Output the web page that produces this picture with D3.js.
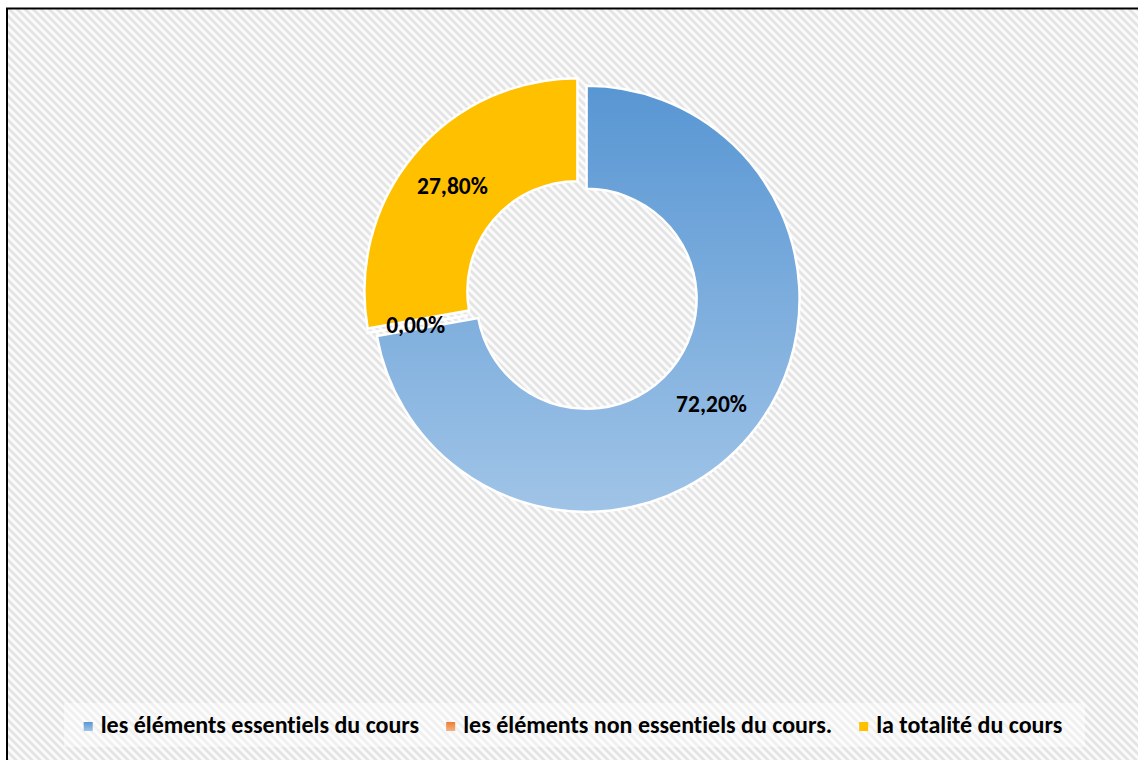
<!DOCTYPE html>
<html>
<head>
<meta charset="utf-8">
<script src="https://cdn.jsdelivr.net/npm/d3@7"></script>
<style>
  html, body { margin: 0; padding: 0; background: #ffffff; }
  svg { display: block; }
  text {
    font-family: Carlito, Calibri, Lato, sans-serif;
    font-weight: 700;
    fill: #000000;
    font-variant-ligatures: none;
  }
</style>
</head>
<body>
<div id="chart"></div>
<script>
// =====================================
// DATA
// =====================================

const categories = [
  "les éléments essentiels du cours",
  "les éléments non essentiels du cours.",
  "la totalité du cours"
];

const values = [72.2, 0, 27.8];

// =====================================
// DIMENSIONS
// =====================================

const width = 1138;
const height = 760;

const cx = 582;
const cy = 295;
const outerRadius = 213;
const innerRadius = 110;
const explode = 6;

// =====================================
// SVG
// =====================================

const svg = d3.select("#chart")
  .append("svg")
  .attr("width", width)
  .attr("height", height);

const defs = svg.append("defs");

// hatched background
const pattern = defs.append("pattern")
  .attr("id", "hatch")
  .attr("patternUnits", "userSpaceOnUse")
  .attr("width", 8)
  .attr("height", 8);

pattern.append("rect")
  .attr("width", 8)
  .attr("height", 8)
  .attr("fill", "#fbfbfb");

pattern.append("path")
  .attr("d", "M-2,-2 L10,10 M-2,6 L2,10 M6,-2 L10,2")
  .attr("stroke", "#e4e4e4")
  .attr("stroke-width", 2.8);

// slice gradients
const gradients = [
  ["#5896d3", "#a0c4e7"],
  ["#ed7d31", "#f4b183"],
  ["#ffc000", "#ffc000"]
];

gradients.forEach((g, i) => {
  const lg = defs.append("linearGradient")
    .attr("id", "grad" + i)
    .attr("x1", 0).attr("y1", 0)
    .attr("x2", 0).attr("y2", 1);
  lg.append("stop").attr("offset", "0%").attr("stop-color", g[0]);
  lg.append("stop").attr("offset", "100%").attr("stop-color", g[1]);
});

// =====================================
// BACKGROUND + BORDER
// =====================================

svg.append("rect")
  .attr("x", 0)
  .attr("y", 0)
  .attr("width", width)
  .attr("height", height)
  .attr("fill", "#ffffff");

svg.append("rect")
  .attr("x", 7)
  .attr("y", 8.5)
  .attr("width", width)
  .attr("height", height)
  .attr("fill", "url(#hatch)")
  .attr("stroke", "#000000")
  .attr("stroke-width", 2);

// =====================================
// PIE
// =====================================

const pie = d3.pie()
  .sort(null)
  .value(d => d);

const arcs = pie(values);

const arc = d3.arc()
  .innerRadius(innerRadius)
  .outerRadius(outerRadius);

const labelArc = d3.arc()
  .innerRadius(163)
  .outerRadius(163);

const fmt = d3.formatLocale({
  decimal: ",",
  thousands: " ",
  grouping: [3],
  currency: ["", "€"]
}).format(".2%");

const offset = d => {
  const a = (d.startAngle + d.endAngle) / 2;
  return [Math.sin(a) * explode, -Math.cos(a) * explode];
};

const chart = svg.append("g")
  .attr("transform", `translate(${cx},${cy})`);

chart.selectAll(".slice")
  .data(arcs)
  .enter()
  .append("path")
  .attr("class", "slice")
  .attr("transform", d => `translate(${offset(d)})`)
  .attr("d", arc)
  .attr("fill", (d, i) => `url(#grad${i})`)
  .attr("stroke", "#ffffff")
  .attr("stroke-width", 2.5);

// labels drawn after all slices so the 0% one stays on top
chart.selectAll(".slice-label")
  .data(arcs)
  .enter()
  .append("text")
  .attr("class", "slice-label")
  .attr("transform", d => {
    const c = labelArc.centroid(d);
    const o = offset(d);
    return `translate(${c[0] + o[0]},${c[1] + o[1]})`;
  })
  .attr("text-anchor", "middle")
  .attr("dominant-baseline", "central")
  .style("font-size", "23.5px")
  .text((d, i) => fmt(values[i] / 100));

// =====================================
// LEGEND
// =====================================

svg.append("rect")
  .attr("x", 64)
  .attr("y", 703)
  .attr("width", 1021)
  .attr("height", 44)
  .attr("fill", "#ffffff")
  .attr("opacity", 0.45);

const legend = svg.append("g");

const items = legend.selectAll(".legend-item")
  .data(categories)
  .enter()
  .append("g")
  .attr("class", "legend-item");

items.append("rect")
  .attr("x", 0)
  .attr("y", -11)
  .attr("width", 9)
  .attr("height", 9)
  .attr("fill", (d, i) => `url(#grad${i})`);

items.append("text")
  .attr("x", 17)
  .attr("y", 0)
  .style("font-size", "24px")
  .text(d => d);

// lay the entries out side by side, centred on the box
const widths = [];
items.each(function() {
  widths.push(17 + d3.select(this).select("text").node().getComputedTextLength());
});

const spacing = 27;
const totalWidth = d3.sum(widths) + spacing * (widths.length - 1);
let xPos = 573 - totalWidth / 2;

items.attr("transform", (d, i) => {
  const t = `translate(${xPos},733)`;
  xPos += widths[i] + spacing;
  return t;
});
</script>
</body>
</html>
